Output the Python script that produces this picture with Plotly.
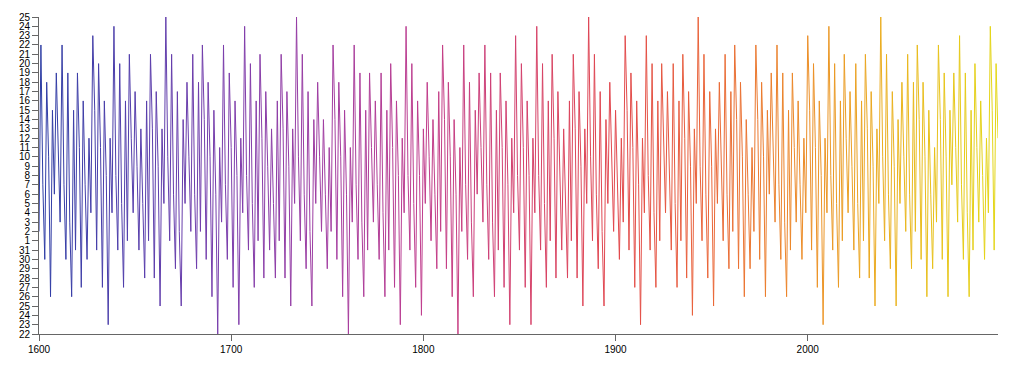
import plotly.graph_objects as go
from plotly.colors import sample_colorscale

# Year of each point (x) and the Easter Sunday date (month-day) for that year (y)
years = list(range(1600, 2100))

easter_1600s = [
    "04-02","04-22","04-07","03-30","04-18","04-10","03-26","04-15","04-06","04-19",
    "04-11","04-03","04-22","04-07","03-30","04-19","04-03","03-26","04-15","03-31",
    "04-19","04-11","03-27","04-16","04-07","03-30","04-12","04-04","04-23","04-15",
    "03-31","04-20","04-11","03-27","04-16","04-08","03-23","04-12","04-04","04-24",
    "04-08","03-31","04-20","04-05","03-27","04-16","04-01","04-21","04-12","04-04",
    "04-17","04-09","03-31","04-13","04-05","03-28","04-16","04-01","04-21","04-13",
    "03-28","04-17","04-09","03-25","04-13","04-05","04-25","04-10","04-01","04-21",
    "04-06","03-29","04-17","04-02","03-25","04-14","04-05","04-18","04-10","04-02",
    "04-21","04-06","03-29","04-18","04-02","04-22","04-14","03-30","04-18","04-10",
    "03-26","04-15","04-06","03-22","04-11","04-03","04-22","04-07","03-30","04-19",
]
easter_1700s = [
    "04-11","03-27","04-16","04-08","03-23","04-12","04-04","04-24","04-08","03-31",
    "04-20","04-05","03-27","04-16","04-01","04-21","04-12","03-28","04-17","04-09",
    "03-31","04-13","04-05","03-28","04-16","04-01","04-21","04-13","03-28","04-17",
    "04-09","03-25","04-13","04-05","04-25","04-10","04-01","04-21","04-06","03-29",
    "04-17","04-02","03-25","04-14","04-05","04-18","04-10","04-02","04-14","04-06",
    "03-29","04-11","04-02","04-22","04-14","03-30","04-18","04-10","03-26","04-15",
    "04-06","03-22","04-11","04-03","04-22","04-07","03-30","04-19","04-03","03-26",
    "04-15","03-31","04-19","04-11","04-03","04-16","04-07","03-30","04-19","04-04",
    "03-26","04-15","03-31","04-20","04-11","03-27","04-16","04-08","03-23","04-12",
    "04-04","04-24","04-08","03-31","04-20","04-05","03-27","04-16","04-08","03-24",
]
easter_1800s = [
    "04-13","04-05","04-18","04-10","04-01","04-14","04-06","03-29","04-17","04-02",
    "04-22","04-14","03-29","04-18","04-10","03-26","04-14","04-06","03-22","04-11",
    "04-02","04-22","04-07","03-30","04-18","04-03","03-26","04-15","04-06","04-19",
    "04-11","04-03","04-22","04-07","03-30","04-19","04-03","03-26","04-15","03-31",
    "04-19","04-11","03-27","04-16","04-07","03-23","04-12","04-04","04-23","04-08",
    "03-31","04-20","04-11","03-27","04-16","04-08","03-23","04-12","04-04","04-24",
    "04-08","03-31","04-20","04-05","03-27","04-16","04-01","04-21","04-12","03-28",
    "04-17","04-09","03-31","04-13","04-05","03-28","04-16","04-01","04-21","04-13",
    "03-28","04-17","04-09","03-25","04-13","04-05","04-25","04-10","04-01","04-21",
    "04-06","03-29","04-17","04-02","03-25","04-14","04-05","04-18","04-10","04-02",
]
easter_1900s = [
    "04-15","04-07","03-30","04-12","04-03","04-23","04-15","03-31","04-19","04-11",
    "03-27","04-16","04-07","03-23","04-12","04-04","04-23","04-08","03-31","04-20",
    "04-04","03-27","04-16","04-01","04-20","04-12","04-04","04-17","04-08","03-31",
    "04-20","04-05","03-27","04-16","04-01","04-21","04-12","03-28","04-17","04-09",
    "03-24","04-13","04-05","04-25","04-09","04-01","04-21","04-06","03-28","04-17",
    "04-09","03-25","04-13","04-05","04-18","04-10","04-01","04-21","04-06","03-29",
    "04-17","04-02","04-22","04-14","03-29","04-18","04-10","03-26","04-14","04-06",
    "03-29","04-11","04-02","04-22","04-14","03-30","04-18","04-10","03-26","04-15",
    "04-06","04-19","04-11","04-03","04-22","04-07","03-30","04-19","04-03","03-26",
    "04-15","03-31","04-19","04-11","04-03","04-16","04-07","03-30","04-12","04-04",
]
easter_2000s = [
    "04-23","04-15","03-31","04-20","04-11","03-27","04-16","04-08","03-23","04-12",
    "04-04","04-24","04-08","03-31","04-20","04-05","03-27","04-16","04-01","04-21",
    "04-12","04-04","04-17","04-09","03-31","04-20","04-05","03-28","04-16","04-01",
    "04-21","04-13","03-28","04-17","04-09","03-25","04-13","04-05","04-25","04-10",
    "04-01","04-21","04-06","03-29","04-17","04-09","03-25","04-14","04-05","04-18",
    "04-10","04-02","04-21","04-06","03-29","04-18","04-02","04-22","04-14","03-30",
    "04-18","04-10","03-26","04-15","04-06","03-29","04-11","04-03","04-22","04-14",
    "03-30","04-19","04-10","03-26","04-15","04-07","04-19","04-11","04-03","04-23",
    "04-07","03-30","04-19","04-04","03-26","04-15","03-31","04-20","04-11","04-03",
    "04-16","04-08","03-30","04-12","04-04","04-24","04-15","03-31","04-20","04-12",
]

easter = easter_1600s + easter_1700s + easter_1800s + easter_1900s + easter_2000s
# plot month-day on a common (arbitrary) year so the y axis is a date scale
y_dates = ["2000-" + md for md in easter]

# ---- style ----
AXIS_COLOR = "#666"
FONT = dict(family="Liberation Sans, Arial, Helvetica, sans-serif", size=10, color="black")
CHUNK = 3
GRADIENT = [
    [0.0, "rgb(45,62,165)"],
    [0.1, "rgb(85,62,172)"],
    [0.2, "rgb(125,62,172)"],
    [0.3, "rgb(162,62,162)"],
    [0.4, "rgb(192,62,142)"],
    [0.5, "rgb(212,66,110)"],
    [0.6, "rgb(226,72,78)"],
    [0.7, "rgb(234,102,56)"],
    [0.8, "rgb(236,142,40)"],
    [0.9, "rgb(234,182,30)"],
    [1.0, "rgb(228,216,24)"],
]

fig = go.Figure()
n = len(years)
x0, x1 = years[0], years[-1]
for s in range(0, n - 1, CHUNK):
    e = min(s + CHUNK, n - 1)
    t = ((years[s] + years[e]) / 2 - x0) / (x1 - x0)
    color = sample_colorscale(GRADIENT, [t])[0]
    fig.add_trace(go.Scatter(
        x=years[s:e + 1], y=y_dates[s:e + 1], mode="lines",
        line=dict(color=color, width=1),
        hoverinfo="skip", showlegend=False,
    ))

fig.update_layout(
    width=1024, height=372,
    margin=dict(l=39, r=26, t=11, b=38, pad=0),
    paper_bgcolor="white", plot_bgcolor="white",
    font=FONT,
    showlegend=False,
)
fig.update_xaxes(
    range=[1600, 2099], tick0=1600, dtick=100, tickformat="d",
    showline=True, linecolor=AXIS_COLOR, linewidth=1,
    ticks="outside", ticklen=6, tickwidth=1, tickcolor=AXIS_COLOR,
    showgrid=False, zeroline=False, tickfont=FONT,
)
fig.update_yaxes(
    type="date", range=["2000-03-22", "2000-04-25"],
    tick0="2000-03-22", dtick=86400000, tickformat="%-d",
    showline=True, linecolor=AXIS_COLOR, linewidth=1,
    ticks="outside", ticklen=6, tickwidth=1, tickcolor=AXIS_COLOR,
    showgrid=False, zeroline=False, tickfont=FONT,
)

fig.write_html("out.html", config={"displayModeBar": False},
               post_script="document.body.style.margin='0';")
